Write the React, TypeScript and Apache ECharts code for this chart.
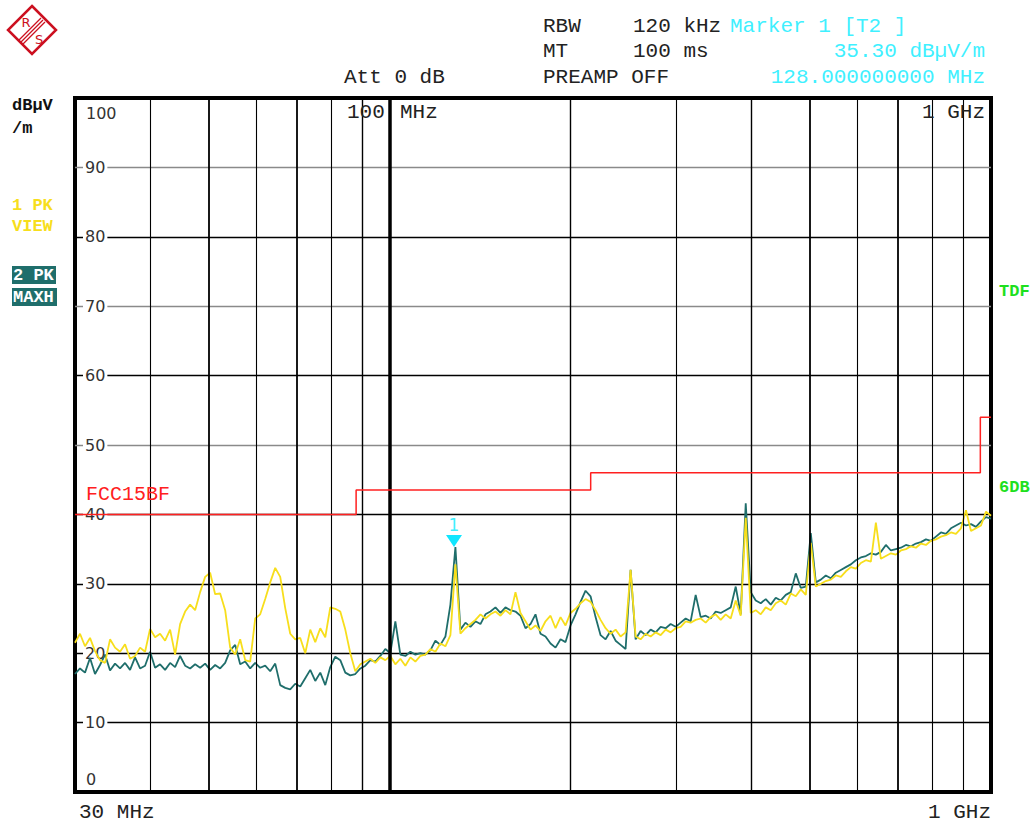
import React, { useEffect, useRef } from "react";
import * as echarts from "echarts";

// Sweep definition (analyzer sweeps log-spaced from start to stop)
const SWEEP_START_MHZ = 30;
const SWEEP_STOP_MHZ = 1000;

// Trace 1: 1 PK VIEW (yellow), levels in dBµV/m, one value per sweep point
const TRACE1_PK_VIEW = [
  21.5, 22.8, 21.0, 22.2, 20.3, 19.0, 18.6, 22.0, 20.8, 20.2,
  21.3, 19.2, 19.6, 20.8, 20.2, 23.5, 22.3, 22.8, 21.8, 23.4,
  19.8, 24.2, 26.0, 27.0, 26.2, 28.8, 31.0, 31.6, 28.5, 28.6,
  26.2, 20.8, 19.8, 22.0, 19.0, 18.8, 25.0, 25.6, 27.8, 30.2,
  32.3, 31.0, 26.5, 22.8, 22.0, 22.2, 20.0, 23.4, 21.6, 23.6,
  22.3, 26.6, 26.4, 26.0, 23.4, 20.0, 17.4, 18.4, 18.8, 19.2,
  18.6, 19.4, 19.0, 19.6, 18.4, 19.2, 18.2, 19.4, 18.8, 19.6,
  19.8, 20.6, 20.2, 21.4, 21.0, 22.6, 32.8, 22.8, 23.6, 24.2,
  24.8, 25.6, 25.0, 25.6, 26.0, 25.4, 26.2, 25.6, 28.8, 25.8,
  24.6, 23.4, 24.0, 23.2, 24.6, 25.4, 23.6, 25.2, 24.0, 25.8,
  26.4, 27.2, 27.8, 27.4, 26.2, 24.8, 23.6, 22.8, 23.4, 22.4,
  23.0, 32.0, 22.4, 22.0, 22.8, 22.4, 23.0, 22.6, 23.4, 23.0,
  23.6, 23.8, 24.6, 24.4, 24.8, 25.0, 24.4, 25.2, 25.6, 24.8,
  25.6, 25.0, 27.6, 25.4, 39.5, 25.8, 26.2, 25.6, 26.6, 26.2,
  27.2, 27.6, 27.0, 28.6, 28.2, 29.2, 28.4, 35.9, 29.6, 30.0,
  30.4, 30.6, 31.2, 31.0, 31.8, 32.4, 32.2, 33.0, 33.4, 33.2,
  38.8, 33.6, 34.0, 34.4, 34.2, 34.8, 35.0, 35.4, 35.2, 35.8,
  35.6, 36.2, 36.4, 36.8, 37.0, 37.4, 37.2, 38.0, 40.6, 37.6,
  38.0, 38.4, 40.4, 39.8,
];

// Trace 2: 2 PK MAXH (teal)
const TRACE2_PK_MAXH = [
  17.0, 17.8, 17.2, 19.3, 17.0, 18.3, 19.8, 17.5, 18.5, 17.8,
  18.6, 17.6, 19.4, 17.8, 18.2, 20.2, 17.9, 18.4, 17.6, 18.6,
  18.0, 19.6, 18.2, 17.8, 18.4, 17.9, 18.5, 17.6, 18.3, 17.8,
  18.6, 20.4, 21.2, 18.4, 18.8, 17.8, 18.6, 17.9, 18.2, 17.4,
  18.5, 15.4, 15.0, 14.8, 15.6, 15.2, 16.4, 17.6, 16.0, 17.2,
  15.4, 18.0, 19.5, 19.0, 17.2, 16.8, 17.0, 17.8, 18.2, 19.0,
  18.8, 19.6, 20.6, 20.0, 24.6, 19.8, 19.6, 20.2, 19.8, 20.0,
  19.8, 20.4, 21.8, 21.2, 22.4, 27.0, 35.3, 23.4, 24.4, 23.8,
  24.6, 24.2, 25.6, 26.0, 26.6, 25.8, 26.6, 26.2, 26.0, 25.4,
  23.6, 24.2, 25.6, 22.8, 22.4, 21.4, 20.8, 22.0, 21.6, 24.0,
  25.6, 27.4, 29.0, 28.2, 25.2, 22.6, 22.0, 23.2, 21.8, 21.2,
  20.6, 32.0, 22.0, 23.2, 22.6, 23.4, 23.0, 23.8, 23.6, 24.2,
  23.8, 24.4, 25.0, 24.6, 28.4, 25.2, 25.4, 25.0, 26.0, 25.8,
  26.2, 26.6, 29.6, 25.6, 41.6, 28.8, 27.6, 27.2, 27.8, 27.0,
  28.0, 27.6, 28.4, 28.8, 31.5, 29.4, 29.6, 37.3, 30.2, 30.6,
  31.2, 30.8, 31.6, 32.0, 32.4, 32.8, 33.4, 33.8, 34.0, 34.4,
  34.2, 34.6, 35.6, 34.8, 35.0, 35.2, 35.6, 35.4, 35.8, 36.0,
  36.4, 36.2, 36.8, 37.4, 37.2, 38.0, 38.4, 38.8, 38.4, 38.6,
  38.2, 39.0, 39.6, 39.4,
];

// FCC 15 class B limit line [MHz, dBµV/m]
const LIMIT_FCC15BF: [number, number][] = [
  [30, 40], [88, 40], [88, 43.5], [216, 43.5], [216, 46], [960, 46], [960, 54], [1000, 54],
];

const MARKER1 = { freq: 128, level: 35.3, label: "1" };

const FREQ_GRID_MHZ = [40, 50, 60, 70, 80, 90, 100, 200, 300, 400, 500, 600, 700, 800, 900];
const FREQ_GRID_WIDTH = [1.1, 1.8, 1.1, 1.8, 1.1, 1.4, 3.5, 1.4, 1.1, 1.4, 1.8, 1.1, 1.8, 1.1, 1.1];
// colours of the level grid lines 0,10,...,100
const LEVEL_LINE_COLORS = ["#000", "#000", "#000", "#000", "#000", "#8a8a8a", "#000", "#8a8a8a", "#000", "#8a8a8a", "#000"];

const MONO = '"Liberation Mono", "Courier New", monospace';
const HEAD = `21px ${MONO}`;
const SIDE = `bold 17px ${MONO}`;
const DARK = "#222";
const CYAN = "#3ff0ff";
const YELLOW = "#f7de1c";
const TEAL = "#1f6e6b";
const GREEN = "#1ee01e";
const RED = "#ff2020";
const LOGO_RED = "#cc1020";

const sweepFreq = (i: number, n: number) =>
  SWEEP_START_MHZ * Math.pow(SWEEP_STOP_MHZ / SWEEP_START_MHZ, i / (n - 1));
const toPairs = (vals: number[]) => vals.map((v, i) => [sweepFreq(i, vals.length), v]);

const txt = (x: number, y: number, text: string, fill: string, font: string, align = "left") => ({
  type: "text",
  x,
  y,
  silent: true,
  z: 100,
  style: { text, fill, font, textAlign: align, textVerticalAlign: "middle" },
});

export default function App() {
  const ref = useRef<HTMLDivElement>(null);
  useEffect(() => {
    if (!ref.current) return;
    const chart = echarts.init(ref.current, undefined, { renderer: "svg" });
    const option: any = {
      animation: false,
      backgroundColor: "#fff",
      grid: {
        left: 75,
        right: 40,
        top: 98,
        bottom: 30,
        show: true,
        borderColor: "#000",
        borderWidth: 4,
        backgroundColor: "transparent",
      },
      xAxis: {
        type: "log",
        logBase: 10,
        min: SWEEP_START_MHZ,
        max: SWEEP_STOP_MHZ,
        axisLine: { show: false },
        axisTick: { show: false },
        axisLabel: { show: false },
        splitLine: { show: false },
      },
      yAxis: {
        type: "value",
        min: 0,
        max: 100,
        interval: 10,
        axisLine: { show: false },
        axisTick: { show: false },
        axisLabel: {
          inside: true,
          margin: 8,
          color: "#333",
          fontSize: 16,
          lineHeight: 14,
          fontFamily: '"DejaVu Sans"',
          backgroundColor: "#fff",
          padding: [0, 2],
          showMinLabel: false,
          showMaxLabel: false,
        },
        splitLine: { show: true, lineStyle: { color: LEVEL_LINE_COLORS, width: 1.3 } },
      },
      series: [
        {
          name: "freqgrid",
          type: "line",
          data: [],
          silent: true,
          z: 1,
          markLine: {
            silent: true,
            symbol: ["none", "none"],
            label: { show: false },
            animation: false,
            data: FREQ_GRID_MHZ.map((f, i) => ({
              xAxis: f,
              lineStyle: { color: "#000", width: FREQ_GRID_WIDTH[i], type: "solid" },
            })),
          },
        },
        {
          name: "2 PK MAXH",
          type: "line",
          data: toPairs(TRACE2_PK_MAXH),
          symbol: "none",
          lineStyle: { color: TEAL, width: 1.8 },
          z: 3,
        },
        {
          name: "1 PK VIEW",
          type: "line",
          data: toPairs(TRACE1_PK_VIEW),
          symbol: "none",
          lineStyle: { color: YELLOW, width: 1.8 },
          z: 4,
        },
        {
          name: "FCC15BF",
          type: "line",
          data: LIMIT_FCC15BF,
          symbol: "none",
          lineStyle: { color: RED, width: 1.5 },
          z: 5,
          markPoint: {
            silent: true,
            symbol: "triangle",
            symbolRotate: 180,
            symbolSize: [16, 12],
            symbolOffset: [0, -6],
            itemStyle: { color: "#10e6ff" },
            label: {
              show: true,
              position: "top",
              distance: 2,
              formatter: MARKER1.label,
              color: CYAN,
              fontSize: 17,
              fontFamily: '"DejaVu Sans"',
            },
            data: [{ coord: [MARKER1.freq, MARKER1.level] }],
          },
        },
      ],
      graphic: [
        // R&S logo
        {
          type: "polygon",
          silent: true,
          shape: { points: [[32, 6], [56, 30], [32, 54], [8, 30]] },
          style: { fill: "none", stroke: LOGO_RED, lineWidth: 2.5 },
        },
        { type: "line", silent: true, shape: { x1: 19, y1: 40, x2: 41, y2: 18 }, style: { stroke: LOGO_RED, lineWidth: 1.2 } },
        { type: "line", silent: true, shape: { x1: 21, y1: 42, x2: 43, y2: 20 }, style: { stroke: LOGO_RED, lineWidth: 1.2 } },
        { type: "line", silent: true, shape: { x1: 23, y1: 44, x2: 45, y2: 22 }, style: { stroke: LOGO_RED, lineWidth: 1.2 } },
        txt(26, 22, "R", LOGO_RED, '13px "DejaVu Sans"', "center"),
        txt(39, 39, "S", LOGO_RED, '13px "DejaVu Sans"', "center"),
        // header
        txt(543, 26, "RBW", DARK, HEAD),
        txt(633, 26, "120 kHz", DARK, HEAD),
        txt(730, 26, "Marker 1 [T2 ]", CYAN, HEAD),
        txt(543, 51, "MT", DARK, HEAD),
        txt(633, 51, "100 ms", DARK, HEAD),
        txt(985, 51, "35.30 dBµV/m", CYAN, HEAD, "right"),
        txt(344, 77, "Att 0 dB", DARK, HEAD),
        txt(543, 77, "PREAMP OFF", DARK, HEAD),
        txt(985, 77, "128.000000000 MHz", CYAN, HEAD, "right"),
        // left side
        txt(12, 105, "dBµV", "#111", SIDE),
        txt(12, 128, "/m", "#111", SIDE),
        txt(12, 205, "1 PK", YELLOW, SIDE),
        txt(12, 226, "VIEW", YELLOW, SIDE),
        { type: "rect", silent: true, shape: { x: 12, y: 266, width: 44, height: 18 }, style: { fill: TEAL } },
        { type: "rect", silent: true, shape: { x: 12, y: 288, width: 45, height: 18 }, style: { fill: TEAL } },
        txt(13, 275, "2 PK", "#fff", SIDE),
        txt(13, 297, "MAXH", "#fff", SIDE),
        // right side
        txt(999, 291, "TDF", GREEN, SIDE),
        txt(999, 487, "6DB", GREEN, SIDE),
        // plot annotations
        txt(347, 112, "100", DARK, HEAD),
        txt(400, 112, "MHz", DARK, HEAD),
        txt(985, 112, "1 GHz", DARK, HEAD, "right"),
        txt(86, 113, "100", "#333", '16px "DejaVu Sans"'),
        txt(86, 779, "0", "#333", '16px "DejaVu Sans"'),
        txt(86, 494, "FCC15BF", RED, `20px ${MONO}`),
        // bottom
        txt(79, 812, "30 MHz", DARK, HEAD),
        txt(991, 812, "1 GHz", DARK, HEAD, "right"),
      ],
    };
    chart.setOption(option);
    return () => chart.dispose();
  }, []);
  return (
    <div
      ref={ref}
      style={{ position: "absolute", left: 0, top: 0, width: 1031, height: 822, background: "#fff" }}
    />
  );
}
